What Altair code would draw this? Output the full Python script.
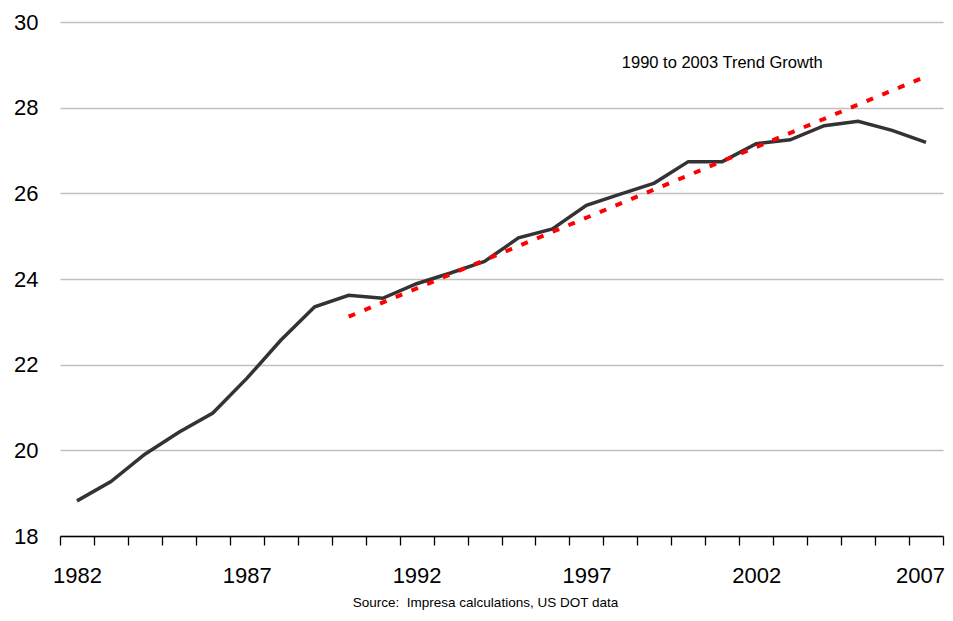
import altair as alt
import pandas as pd

years = [1982, 1983, 1984, 1985, 1986, 1987, 1988, 1989, 1990, 1991, 1992, 1993, 1994,
         1995, 1996, 1997, 1998, 1999, 2000, 2001, 2002, 2003, 2004, 2005, 2006, 2007]
values = [18.82, 19.27, 19.91, 20.42, 20.87, 21.68, 22.57, 23.35, 23.62, 23.55, 23.89, 24.14, 24.41,
          24.96, 25.17, 25.72, 25.98, 26.24, 26.74, 26.74, 27.16, 27.25, 27.58, 27.68, 27.47, 27.19]

trend_years = [1990, 2007]
trend_values = [23.12, 28.73]

label_years = [1982, 1987, 1992, 1997, 2002, 2007]
y_ticks = [18, 20, 22, 24, 26, 28, 30]

annot_text = ["1990 to 2003 Trend Growth"]
annot_year = [2001]
annot_value = [29.04]

source_text = "Source:\u00a0 Impresa calculations, US DOT data"

FONT = "Liberation Sans"

df = pd.DataFrame({"year": years, "value": values})
tdf = pd.DataFrame({"year": trend_years, "value": trend_values})
adf = pd.DataFrame({"year": annot_year, "value": annot_value, "text": annot_text})

xscale = alt.Scale(type="band", domain=years, paddingInner=0, paddingOuter=0)
yscale = alt.Scale(domain=[18, 30], nice=False, zero=False)

label_list = "[" + ",".join(str(y) for y in label_years) + "]"

xaxis = alt.Axis(
    title=None,
    tickBand="extent",
    labelExpr=f"indexof({label_list}, datum.value) >= 0 ? datum.label : ''",
    labelOverlap=False,
    labelAngle=0,
    labelFontSize=22,
    labelFont=FONT,
    labelColor="black",
    labelPadding=20,
    labelOffset=alt.condition("datum.value == 2007", alt.value(-6), alt.value(0)),
    domainColor="black",
    domainWidth=1.3,
    tickColor="black",
    tickWidth=1.3,
    tickSize=9,
    grid=False,
    zindex=1,
)
yaxis = alt.Axis(
    title=None,
    values=y_ticks,
    grid=True,
    gridColor="#c0c0c0",
    gridWidth=1.5,
    domain=False,
    ticks=False,
    labelFontSize=22,
    labelFont=FONT,
    labelColor="black",
    labelPadding=22,
)

base_line = alt.Chart(df).mark_line(color="#333333", strokeWidth=3.5, strokeJoin="miter").encode(
    x=alt.X("year:O", scale=xscale, axis=xaxis),
    y=alt.Y("value:Q", scale=yscale, axis=yaxis),
)

trend_line = alt.Chart(tdf).mark_line(color="#ff0000", strokeWidth=4, strokeDash=[7, 10]).encode(
    x=alt.X("year:O", scale=xscale),
    y=alt.Y("value:Q", scale=yscale),
)

annot = alt.Chart(adf).mark_text(font=FONT, fontSize=16.5, color="black", baseline="middle", align="center").encode(
    x=alt.X("year:O", scale=xscale),
    y=alt.Y("value:Q", scale=yscale),
    text="text:N",
)

chart = alt.layer(base_line, trend_line, annot).properties(
    width=883,
    height=514,
    padding={"left": 52, "top": 14, "right": 2, "bottom": 76},
    autosize=alt.AutoSizeParams(type="none"),
    background="white",
    title=alt.TitleParams(
        text=source_text,
        orient="bottom",
        anchor="middle",
        font=FONT,
        fontSize=13.5,
        fontWeight="normal",
        color="black",
        offset=10,
        dx=-16,
    ),
).configure_view(stroke=None)

chart.save("out.html", embed_options={"renderer": "svg", "actions": False})
